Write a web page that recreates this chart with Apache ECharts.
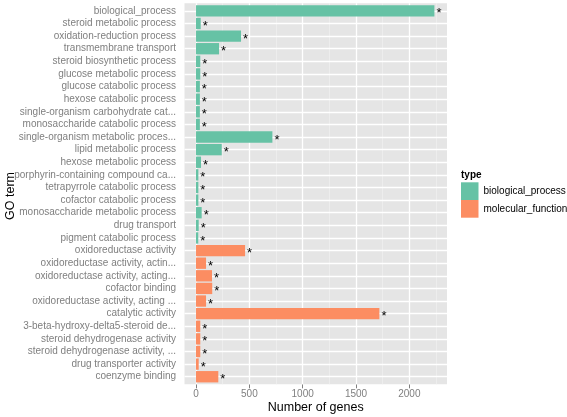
<!DOCTYPE html>
<html>
<head>
<meta charset="utf-8">
<script src="https://cdn.jsdelivr.net/npm/echarts@6/dist/echarts.min.js"></script>
<style>
html,body{margin:0;padding:0;background:#fff;}
#chart{width:567px;height:417px;}
</style>
</head>
<body>
<div id="chart"></div>
<script>
var categories = [
  'biological_process','steroid metabolic process','oxidation-reduction process','transmembrane transport',
  'steroid biosynthetic process','glucose metabolic process','glucose catabolic process','hexose catabolic process',
  'single-organism carbohydrate cat...','monosaccharide catabolic process','single-organism metabolic proces...',
  'lipid metabolic process','hexose metabolic process','porphyrin-containing compound ca...',
  'tetrapyrrole catabolic process','cofactor catabolic process','monosaccharide metabolic process',
  'drug transport','pigment catabolic process','oxidoreductase activity','oxidoreductase activity, actin...',
  'oxidoreductase activity, acting...','cofactor binding','oxidoreductase activity, acting ...',
  'catalytic activity','3-beta-hydroxy-delta5-steroid de...','steroid dehydrogenase activity',
  'steroid dehydrogenase activity, ...','drug transporter activity','coenzyme binding'
];
var types = [
  'biological_process','biological_process','biological_process','biological_process','biological_process',
  'biological_process','biological_process','biological_process','biological_process','biological_process',
  'biological_process','biological_process','biological_process','biological_process','biological_process',
  'biological_process','biological_process','biological_process','biological_process',
  'molecular_function','molecular_function','molecular_function','molecular_function','molecular_function',
  'molecular_function','molecular_function','molecular_function','molecular_function','molecular_function',
  'molecular_function'
];
var geneCounts = [2235,44,422,216,40,40,36,36,36,36,716,241,47,22,22,22,53,25,21,460,94,150,152,94,1719,40,40,40,25,209];
var typeNames = ['biological_process','molecular_function'];
var typeColors = ['#66C2A5','#FC8D62'];
var xMajorTicks = [0,500,1000,1500,2000];
var xMinorTicks = [250,750,1250,1750,2250];
var xRange = [-108, 2353];

var chart = echarts.init(document.getElementById('chart'), null, {renderer:'canvas'});
var fontFam = '"Liberation Sans", Arial, sans-serif';
var axisGrey = '#7F7F7F';

var barSeries = typeNames.map(function(t, k){
  return {
    name: t, type: 'bar', xAxisIndex: 1, yAxisIndex: 1, stack: 'all', z: 3,
    barWidth: '90%',
    itemStyle: {color: typeColors[k]},
    label: {show: true, position: 'right', distance: 2, formatter: '*', color: '#000',
            fontSize: 13, fontFamily: fontFam, offset: [0, 3]},
    emphasis: {disabled: true},
    animation: false,
    data: geneCounts.map(function(v, i){ return types[i] === t ? v : '-'; })
  };
});

var vLines = xMajorTicks.map(function(v){ return {xAxis: v, lineStyle: {color:'#FFFFFF', width:1.3}}; })
  .concat(xMinorTicks.map(function(v){ return {xAxis: v, lineStyle: {color:'#F2F2F2', width:0.6}}; }));
var hLines = categories.map(function(c){ return {yAxis: c}; });

var option = {
  animation: false,
  grid: [
    {left:184.5, right:120, top:3.3, bottom:32.7, show:true, backgroundColor:'#E5E5E5', borderWidth:0, containLabel:false},
    {left:184.5, right:120, top:4.56, bottom:33.96, show:false, containLabel:false}
  ],
  xAxis: [
    {gridIndex:0, type:'value', min:xRange[0], max:xRange[1],
     axisLine:{show:false}, splitLine:{show:false},
     axisTick:{show:true, customValues:xMajorTicks, length:4, lineStyle:{color:axisGrey, width:1}},
     axisLabel:{show:true, customValues:xMajorTicks, color:axisGrey, fontSize:10, fontFamily:fontFam, margin:5,
       formatter:function(v){ return xMajorTicks.indexOf(v) >= 0 ? String(v) : ''; }}},
    {gridIndex:1, type:'value', min:xRange[0], max:xRange[1], show:false, splitLine:{show:false}}
  ],
  yAxis: [
    {gridIndex:0, type:'value', min:0, max:1, show:false, splitLine:{show:false}},
    {gridIndex:1, type:'category', data:categories, inverse:true,
     axisLine:{show:false}, splitLine:{show:false},
     axisTick:{show:true, alignWithLabel:true, interval:0, length:4, lineStyle:{color:axisGrey, width:1}},
     axisLabel:{color:axisGrey, fontSize:10, fontFamily:fontFam, margin:8.5, interval:0}}
  ],
  legend: {
    orient:'vertical', left:461, top:182.3, itemWidth:17.5, itemHeight:17.7, itemGap:0,
    icon:'rect', padding:0, textStyle:{color:'#000', fontSize:10, fontFamily:fontFam},
    data: typeNames
  },
  graphic: [
    {type:'text', x:11, y:196, rotation:Math.PI/2,
     style:{text:'GO term', fill:'#000', font:'12.5px ' + fontFam, textAlign:'center', textVerticalAlign:'middle'}},
    {type:'text', x:315.7, y:408, 
     style:{text:'Number of genes', fill:'#000', font:'12.5px ' + fontFam, textAlign:'center', textVerticalAlign:'middle'}},
    {type:'text', x:461, y:175,
     style:{text:'type', fill:'#000', font:'bold 10px ' + fontFam, textAlign:'left', textVerticalAlign:'middle'}}
  ],
  series: [
    {type:'line', xAxisIndex:0, yAxisIndex:0, z:1, data:[], silent:true,
     markLine:{z:1, silent:true, symbol:'none', animation:false, label:{show:false}, emphasis:{disabled:true},
       lineStyle:{type:'solid'}, data:vLines}},
    {type:'line', xAxisIndex:1, yAxisIndex:1, z:1, data:[], silent:true,
     markLine:{z:1, silent:true, symbol:'none', animation:false, label:{show:false}, emphasis:{disabled:true},
       lineStyle:{type:'solid', color:'#FFFFFF', width:1.3}, data:hLines}}
  ].concat(barSeries)
};
chart.setOption(option);
</script>
</body>
</html>
